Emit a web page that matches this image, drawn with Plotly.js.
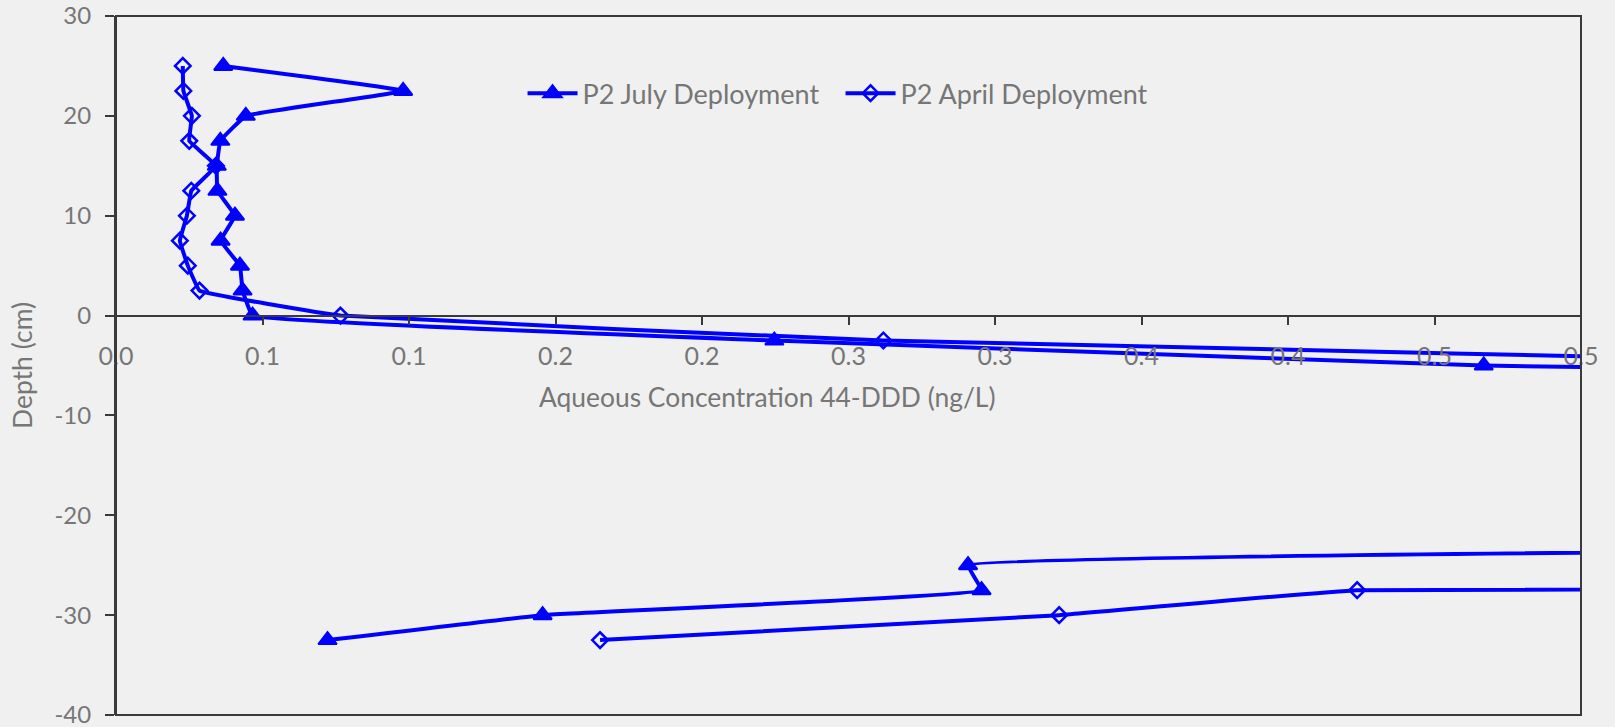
<!DOCTYPE html>
<html>
<head>
<meta charset="utf-8">
<script src="https://cdn.plot.ly/plotly-3.0.1.min.js"></script>
<style>
html,body{margin:0;padding:0;background:#f0f0f0;}
#chart{width:1615px;height:727px;}
</style>
</head>
<body>
<div id="chart"></div>
<script>
// Depth (cm) of each sampling point
const depths = [25, 22.5, 20, 17.5, 15, 12.5, 10, 7.5, 5, 2.5, 0, -2.5, -5, -7.5, -10, -12.5, -15, -17.5, -20, -22.5, -25, -27.5, -30, -32.5];
// Aqueous concentration 44-DDD (ng/L); values beyond 0.5 lie off the visible axis and are estimated
const julyConc = [0.0366, 0.0980, 0.0443, 0.0356, 0.0344, 0.0346, 0.0406, 0.0357, 0.0423, 0.0432, 0.0466, 0.2247, 0.4668, 1.00, 1.60, 2.00, 2.30, 2.30, 1.95, 1.13, 0.2908, 0.2954, 0.1456, 0.0722];
const aprilConc = [0.0228, 0.0230, 0.0259, 0.0250, 0.0341, 0.0257, 0.0242, 0.0218, 0.0245, 0.0285, 0.0766, 0.2619, 0.65, 1.30, 1.80, 2.20, 2.60, 3.00, 3.50, 4.50, 4.00, 0.4236, 0.3219, 0.1652];
const seriesNames = ["P2 July Deployment", "P2 April Deployment"];
const xTickVals = [0, 0.05, 0.1, 0.15, 0.2, 0.25, 0.3, 0.35, 0.4, 0.45, 0.5];
const xTickText = ["0.0", "0.1", "0.1", "0.2", "0.2", "0.3", "0.3", "0.4", "0.4", "0.5", "0.5"];
const yTickVals = [30, 20, 10, 0, -10, -20, -30, -40];
const yTickText = ["30", "20", "10", "0", "-10", "-20", "-30", "-40"];
const xTitle = "Aqueous Concentration 44-DDD (ng/L)";
const yTitle = "Depth (cm)";

const blue = "#0000ff";
const txt = "#767676";
const axc = "#3a3a3a";
const fontFam = "Lato, 'Open Sans', sans-serif";

const traces = [
  {
    x: julyConc, y: depths, name: seriesNames[0], type: "scatter", mode: "lines+markers",
    line: {color: blue, width: 4, shape: "spline", smoothing: 0.2, simplify: false},
    marker: {symbol: "triangle-up", size: 16, color: blue, line: {color: blue, width: 2}},
    cliponaxis: true
  },
  {
    x: aprilConc, y: depths, name: seriesNames[1], type: "scatter", mode: "lines+markers",
    line: {color: blue, width: 4, shape: "spline", smoothing: 0.2, simplify: false},
    marker: {symbol: "diamond-open", size: 12, color: blue, line: {color: blue, width: 2.5}},
    cliponaxis: true
  }
];

const layout = {
  width: 1615, height: 727,
  paper_bgcolor: "#f0f0f0", plot_bgcolor: "#f0f0f0",
  margin: {l: 116, r: 34, t: 16, b: 12, pad: 0},
  font: {family: fontFam, color: txt, size: 24},
  showlegend: true,
  legend: {
    orientation: "h", x: 0.2775, xanchor: "left", y: 0.889, yanchor: "middle",
    bgcolor: "rgba(0,0,0,0)", font: {family: fontFam, size: 27, color: txt},
    itemwidth: 50, entrywidth: 253, entrywidthmode: "pixels"
  },
  xaxis: {
    range: [0, 0.5], anchor: "free", position: 40 / 70,
    tickvals: xTickVals, ticktext: xTickText,
    ticks: "outside", ticklen: 8, tickwidth: 2, tickcolor: axc,
    showline: true, linecolor: axc, linewidth: 2,
    showgrid: false, zeroline: false,
    tickfont: {family: fontFam, size: 25, color: txt},
    ticklabelstandoff: 10
  },
  yaxis: {
    range: [-40, 30], tickvals: yTickVals, ticktext: yTickText,
    ticks: "outside", ticklen: 9, tickwidth: 2, tickcolor: axc,
    showline: true, linecolor: axc, linewidth: 2,
    showgrid: false, zeroline: false,
    ticklabeloverflow: "allow", ticklabelstandoff: 9,
    tickfont: {family: fontFam, size: 24, color: txt},
    title: {text: yTitle, font: {family: fontFam, size: 26.5, color: txt}, standoff: 14}
  },
  shapes: [
    {type: "rect", xref: "paper", yref: "paper", x0: 0, x1: 1, y0: 0, y1: 1,
     line: {color: axc, width: 2}, fillcolor: "rgba(0,0,0,0)", layer: "above"}
  ],
  annotations: [
    {text: xTitle, xref: "paper", x: 0.4447, yref: "y", y: -8.2, showarrow: false,
     xanchor: "center", yanchor: "middle", font: {family: fontFam, size: 26.4, color: txt}}
  ]
};

Plotly.newPlot("chart", traces, layout, {displayModeBar: false, staticPlot: true});
</script>
</body>
</html>
